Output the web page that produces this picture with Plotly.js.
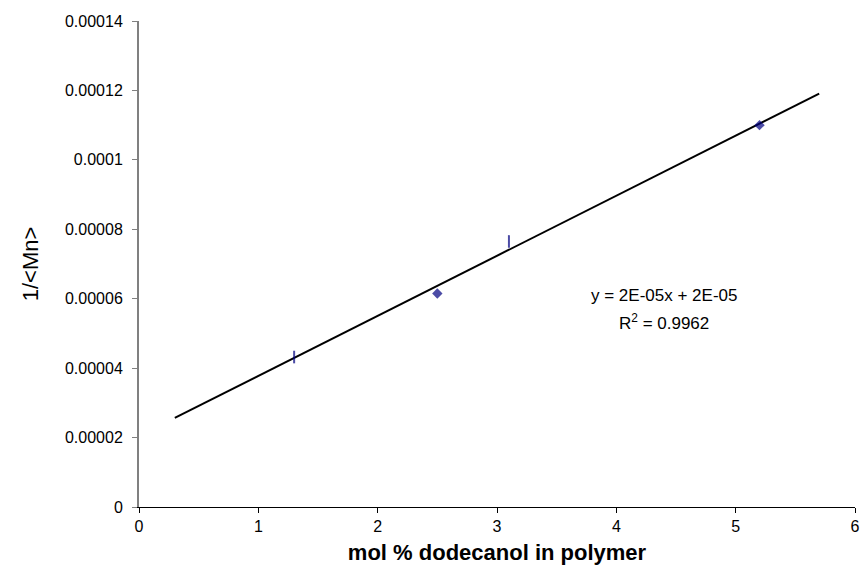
<!DOCTYPE html>
<html>
<head>
<meta charset="utf-8">
<script src="https://cdn.plot.ly/plotly-3.0.1.min.js"></script>
<style>html,body{margin:0;padding:0;background:#fff;}</style>
</head>
<body>
<div id="chart" style="width:863px;height:586px;"></div>
<script>
// Data
const molPercent = [1.3, 2.5, 3.1, 5.2];
const invMn = [0.0000432, 0.0000615, 0.0000765, 0.000110];
const trendRange = [0.3, 5.7];
const yTickVals = [0, 0.00002, 0.00004, 0.00006, 0.00008, 0.0001, 0.00012, 0.00014];
const yTickText = ["0", "0.00002", "0.00004", "0.00006", "0.00008", "0.0001", "0.00012", "0.00014"];
const xTickVals = [0, 1, 2, 3, 4, 5, 6];
const eqText = "y = 2E-05x + 2E-05";
const r2Text = "R<sup>2</sup> = 0.9962";

// least squares fit
const n = molPercent.length;
const mx = molPercent.reduce((a, b) => a + b, 0) / n;
const my = invMn.reduce((a, b) => a + b, 0) / n;
let sxy = 0, sxx = 0;
for (let i = 0; i < n; i++) { sxy += (molPercent[i] - mx) * (invMn[i] - my); sxx += (molPercent[i] - mx) ** 2; }
const slope = sxy / sxx, intercept = my - slope * mx;
const trendY = trendRange.map(x => slope * x + intercept);

const font = "Liberation Sans, Arial, sans-serif";
const traces = [
  {x: trendRange, y: trendY, mode: "lines", line: {color: "#000000", width: 2}, hoverinfo: "skip"},
  {x: molPercent, y: invMn, mode: "markers",
   marker: {symbol: ["line-ns", "diamond", "line-ns", "diamond"], size: [9, 8, 9, 8], color: "#000080",
            line: {color: "#000080", width: [2, 0, 2, 0]}}}
];
const layout = {
  width: 863, height: 586,
  margin: {l: 139, r: 8, t: 21, b: 79},
  showlegend: false,
  paper_bgcolor: "#ffffff", plot_bgcolor: "#ffffff",
  font: {family: font, color: "#000000", size: 16},
  xaxis: {range: [0, 6], tickvals: xTickVals, ticks: "outside", ticklen: 5, tickcolor: "#000000",
          showline: true, linecolor: "#000000", linewidth: 1, showgrid: false, zeroline: false,
          tickfont: {size: 16}, ticklabeloverflow: "allow",
          title: {text: "mol % dodecanol in polymer", font: {size: 22, family: font, weight: "bold"}, standoff: 10}},
  yaxis: {range: [0, 0.00014], tickvals: yTickVals, ticktext: yTickText, ticks: "outside", ticklen: 5,
          tickcolor: "#808080", showline: true, linecolor: "#808080", linewidth: 2, showgrid: false, zeroline: false,
          tickfont: {size: 16}, ticklabelstandoff: 6, ticklabeloverflow: "allow",
          title: {text: "1/&lt;Mn&gt;", font: {size: 22, family: font}, standoff: 20}},
  annotations: [
    {x: 4.4, y: 0.0000608, xref: "x", yref: "y", text: eqText, showarrow: false, font: {size: 17, family: font}, xanchor: "center"},
    {x: 4.4, y: 0.0000533, xref: "x", yref: "y", text: r2Text, showarrow: false, font: {size: 17, family: font}, xanchor: "center"}
  ]
};
Plotly.newPlot("chart", traces, layout, {displayModeBar: false, staticPlot: true});
</script>
</body>
</html>
